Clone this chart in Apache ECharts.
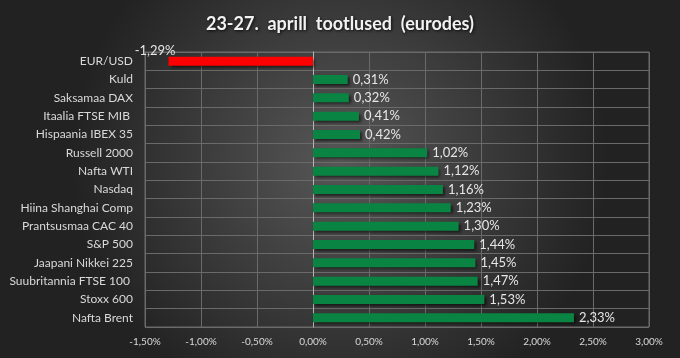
<!DOCTYPE html>
<html><head><meta charset="utf-8">
<script src="https://cdn.jsdelivr.net/npm/echarts@6/dist/echarts.min.js"></script>
<style>html,body{margin:0;padding:0;background:#2a2a2a}#c{width:680px;height:358px}</style>
</head><body><div id="c"></div>
<script>
var titleText = '23-27.  aprill  tootlused  (eurodes)';
var categories = ['EUR/USD','Kuld','Saksamaa DAX','Itaalia FTSE MIB ','Hispaania IBEX 35','Russell 2000','Nafta WTI','Nasdaq','Hiina Shanghai Comp','Prantsusmaa CAC 40','S&P 500','Jaapani Nikkei 225','Suubritannia FTSE 100 ','Stoxx 600','Nafta Brent'];
var values = [-1.29,0.31,0.32,0.41,0.42,1.02,1.12,1.16,1.23,1.30,1.44,1.45,1.47,1.53,2.33];
var axisMin = -1.5, axisMax = 3, axisStep = 0.5;

function fmt(v){ return v.toFixed(2).replace('.', ',') + '%'; }
var font = 'Lato, "Open Sans", sans-serif';
var chart = echarts.init(document.getElementById('c'));
chart.setOption({
  animation: false,
  backgroundColor: {type:'radial', x:0.5, y:0.45, r:0.75, colorStops:[{offset:0,color:'#575757'},{offset:1,color:'#222222'}]},
  title: {text: titleText, left: 'center', top: 10,
    textStyle:{color:'#f2f2f2', fontSize:18, fontWeight:'bold', fontFamily:font,
      textShadowColor:'rgba(0,0,0,0.8)', textShadowBlur:3, textShadowOffsetX:1, textShadowOffsetY:1}},
  grid: {left:145, right:31, top:52, bottom:31, show:true, borderColor:'#6a6a6a', borderWidth:1},
  xAxis: {type:'value', min:axisMin, max:axisMax, interval:axisStep,
    axisLine:{show:false}, axisTick:{show:false},
    splitLine:{lineStyle:{color:'#6a6a6a', width:1}},
    axisLabel:{color:'#d9d9d9', fontSize:10, fontFamily:font, margin:10, formatter: fmt}},
  yAxis: {type:'category', data:categories, inverse:true,
    axisLine:{onZero:true, lineStyle:{color:'#b5b5b5', width:1}}, axisTick:{show:false},
    splitLine:{show:true, interval:0, lineStyle:{color:'#6a6a6a', width:1}},
    axisLabel:{color:'#d9d9d9', fontSize:12, fontFamily:font, margin:12, interval:0}},
  series: [{type:'bar', barWidth:9,
    data: values.map(function(v){
      return {value:v,
        itemStyle:{color: v<0 ? '#ff0000' : '#0a8443'},
        label: v<0 ? {position:'left', offset:[12,-10]} : {position:'right', distance:5}};
    }),
    itemStyle:{shadowColor:'rgba(0,0,0,0.6)', shadowBlur:3, shadowOffsetX:2, shadowOffsetY:2},
    label:{show:true, color:'#e6e6e6', fontSize:13, fontFamily:font,
      formatter:function(p){return fmt(p.value);}}
  }]
});
</script></body></html>
